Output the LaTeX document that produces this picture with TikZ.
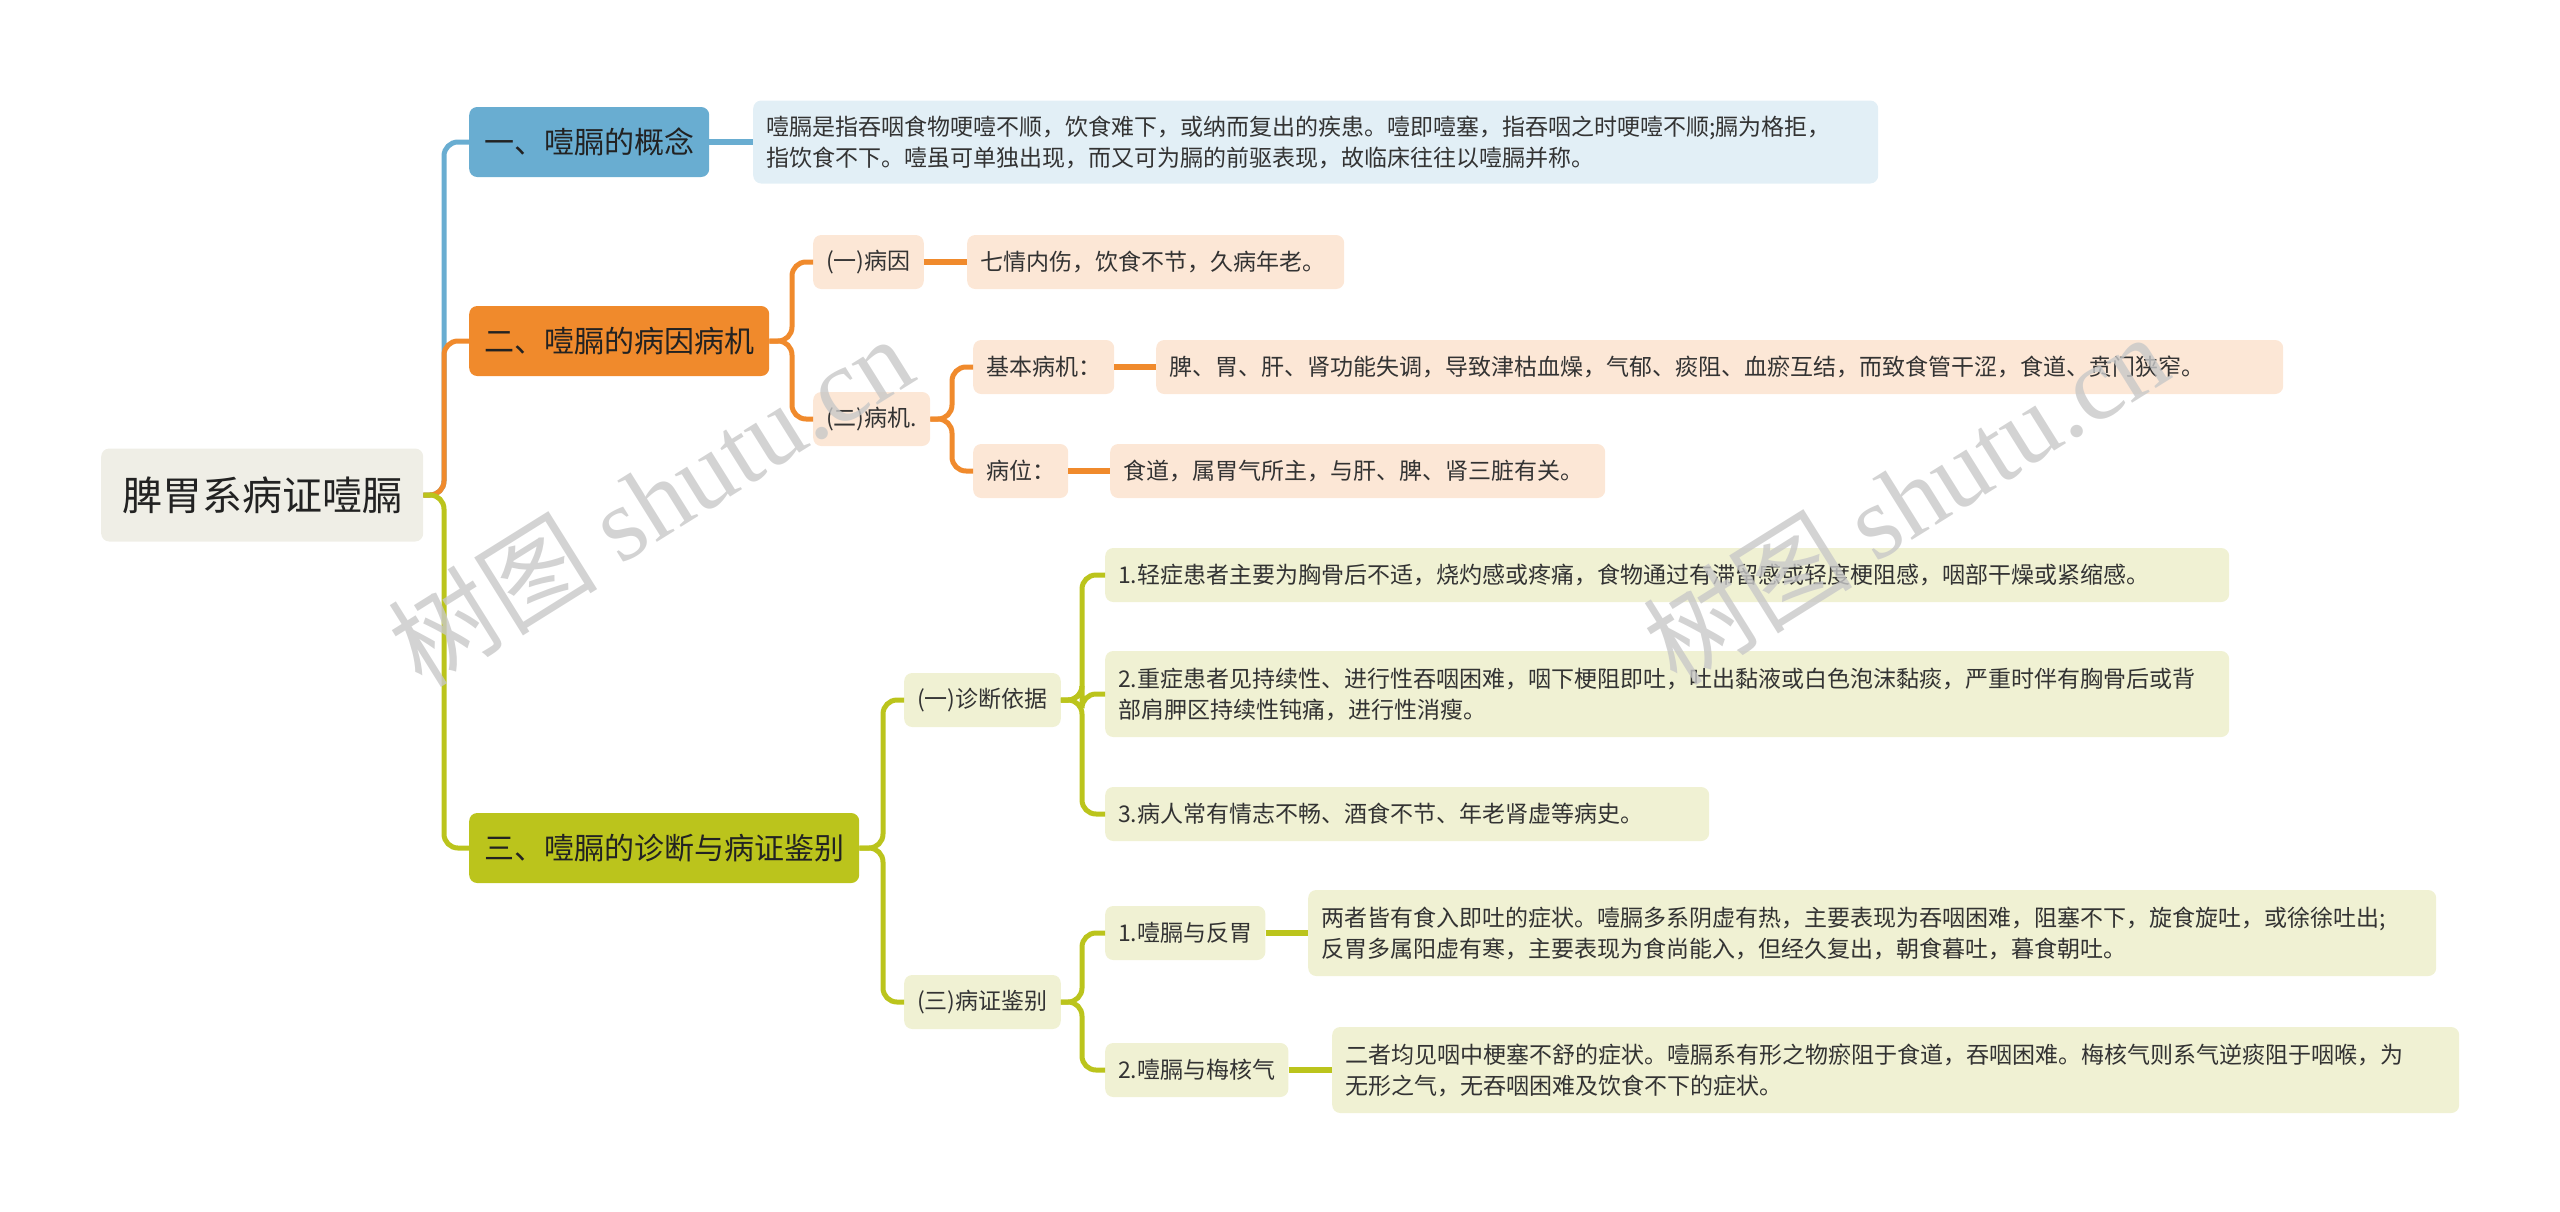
\documentclass[tikz,border=0pt]{standalone}
\usepackage{fontspec}
\setmainfont{Noto Sans CJK SC}
\newfontfamily\wmcjk{Noto Sans CJK SC}
\newfontfamily\wmserif{Liberation Serif}
\definecolor{cBlue}{HTML}{69ADD1}
\definecolor{cBlueL}{HTML}{E2EFF6}
\definecolor{cOr}{HTML}{F08A2C}
\definecolor{cOrL}{HTML}{FCE7D6}
\definecolor{cGr}{HTML}{BBC41C}
\definecolor{cGrL}{HTML}{F0F1D3}
\definecolor{cRoot}{HTML}{EFEEE6}
\definecolor{txt}{HTML}{333333}
\definecolor{txtD}{HTML}{222222}
\definecolor{wmc}{HTML}{C8C8C8}
\tikzset{
  box/.style={rounded corners=8pt, inner xsep=13pt, inner ysep=0pt,
    font=\fontsize{23}{31}\selectfont, text=txt, align=left, anchor=west},
  rootbox/.style={box, fill=cRoot, minimum height=93pt, inner xsep=21pt,
    font=\fontsize{40}{48}\selectfont, text=txtD},
  lonebox/.style={box, minimum height=70pt, inner xsep=15pt,
    font=\fontsize{30}{36}\selectfont, text=txtD},
  smallbox/.style={box, minimum height=54pt},
  twobox/.style={box, minimum height=86pt},
  link/.style={line width=5pt, rounded corners=14pt},
  leaflink/.style={line width=6pt},
  wm/.style={text=wmc, opacity=0.8, rotate=32, inner sep=0pt}
}
\begin{document}
\begin{tikzpicture}[x=1pt,y=-1pt]
\useasboundingbox (0,0) rectangle (2560,1211);

% root
\node[rootbox] (root) at (101,495) {脾胃系病证噎膈};

% level 1
\node[lonebox, fill=cBlue] (b1) at (469,142) {一、噎膈的概念};
\node[lonebox, fill=cOr] (b2) at (469,341) {二、噎膈的病因病机};
\node[lonebox, fill=cGr] (b3) at (469,848) {三、噎膈的诊断与病证鉴别};

% branch 1
\node[twobox, fill=cBlueL, minimum height=83pt, text width=1099pt] (d1) at (753,142)
  {噎膈是指吞咽食物哽噎不顺，饮食难下，或纳而复出的疾患。噎即噎塞，指吞咽之时哽噎不顺;膈为格拒，\\指饮食不下。噎虽可单独出现，而又可为膈的前驱表现，故临床往往以噎膈并称。};

% branch 2
\node[smallbox, fill=cOrL] (c1) at (813,262) {(一)病因};
\node[smallbox, fill=cOrL, text width=351pt] (c1a) at (967,262) {七情内伤，饮食不节，久病年老。};
\node[smallbox, fill=cOrL] (c2) at (813,419) {(二)病机.};
\node[smallbox, fill=cOrL] (c2a) at (973,367) {基本病机：};
\node[smallbox, fill=cOrL, text width=1101pt] (c2ax) at (1156,367) {脾、胃、肝、肾功能失调，导致津枯血燥，气郁、痰阻、血瘀互结，而致食管干涩，食道、贲门狭窄。};
\node[smallbox, fill=cOrL] (c2b) at (973,471) {病位：};
\node[smallbox, fill=cOrL, text width=469pt] (c2bx) at (1110,471) {食道，属胃气所主，与肝、脾、肾三脏有关。};

% branch 3
\node[smallbox, fill=cGrL] (g1) at (904,700) {(一)诊断依据};
\node[smallbox, fill=cGrL, text width=1098pt] (g1a) at (1105,575) {1.轻症患者主要为胸骨后不适，烧灼感或疼痛，食物通过有滞留感或轻度梗阻感，咽部干燥或紧缩感。};
\node[twobox, fill=cGrL, text width=1098pt] (g1b) at (1105,694) {2.重症患者见持续性、进行性吞咽困难，咽下梗阻即吐，吐出黏液或白色泡沫黏痰，严重时伴有胸骨后或背\\部肩胛区持续性钝痛，进行性消瘦。};
\node[smallbox, fill=cGrL, text width=578pt] (g1c) at (1105,814) {3.病人常有情志不畅、酒食不节、年老肾虚等病史。};
\node[smallbox, fill=cGrL] (g2) at (904,1002) {(三)病证鉴别};
\node[smallbox, fill=cGrL] (g2a) at (1105,933) {1.噎膈与反胃};
\node[twobox, fill=cGrL, text width=1102pt] (g2ax) at (1308,933) {两者皆有食入即吐的症状。噎膈多系阴虚有热，主要表现为吞咽困难，阻塞不下，旋食旋吐，或徐徐吐出;\\反胃多属阳虚有寒，主要表现为食尚能入，但经久复出，朝食暮吐，暮食朝吐。};
\node[smallbox, fill=cGrL] (g2b) at (1105,1070) {2.噎膈与梅核气};
\node[twobox, fill=cGrL, text width=1101pt] (g2bx) at (1332,1070) {二者均见咽中梗塞不舒的症状。噎膈系有形之物瘀阻于食道，吞咽困难。梅核气则系气逆痰阻于咽喉，为\\无形之气，无吞咽困难及饮食不下的症状。};

% junction coordinates
\coordinate (j0) at (444,495);
\coordinate (j2) at (792,341);
\coordinate (j3) at (883,848);
\coordinate (j21) at (952,419);
\coordinate (j31) at (1082,700);
\coordinate (j32) at (1082,1002);

% trunk connectors
\draw[link, cBlue] (root.east) -- (j0) |- (b1.west);
\draw[link, cOr] (root.east) -- (j0) |- (b2.west);
\draw[link, cGr] (root.east) -- (j0) |- (b3.west);

% branch 1
\draw[leaflink, cBlue] (b1.east) -- (d1.west);

% branch 2
\draw[link, cOr] (b2.east) -- (j2) |- (c1.west);
\draw[link, cOr] (b2.east) -- (j2) |- (c2.west);
\draw[leaflink, cOr] (c1.east) -- (c1a.west);
\draw[link, cOr] (c2.east) -- (j21) |- (c2a.west);
\draw[link, cOr] (c2.east) -- (j21) |- (c2b.west);
\draw[leaflink, cOr] (c2a.east) -- (c2ax.west);
\draw[leaflink, cOr] (c2b.east) -- (c2bx.west);

% branch 3
\draw[link, cGr] (b3.east) -- (j3) |- (g1.west);
\draw[link, cGr] (b3.east) -- (j3) |- (g2.west);
\draw[link, cGr] (g1.east) -- (j31) |- (g1a.west);
\draw[link, cGr] (g1.east) -- (j31) |- (g1b.west);
\draw[link, cGr] (g1.east) -- (j31) |- (g1c.west);
\draw[link, cGr] (g2.east) -- (j32) |- (g2a.west);
\draw[link, cGr] (g2.east) -- (j32) |- (g2b.west);
\draw[leaflink, cGr] (g2a.east) -- (g2ax.west);
\draw[leaflink, cGr] (g2b.east) -- (g2bx.west);

% watermarks
\node[wm] (wm1) at (650,500) {\fontsize{105}{110}\selectfont\wmcjk 树图 \wmserif shutu.cn};
\node[wm] (wm2) at (1905,498) {\fontsize{105}{110}\selectfont\wmcjk 树图 \wmserif shutu.cn};
\end{tikzpicture}
\end{document}
